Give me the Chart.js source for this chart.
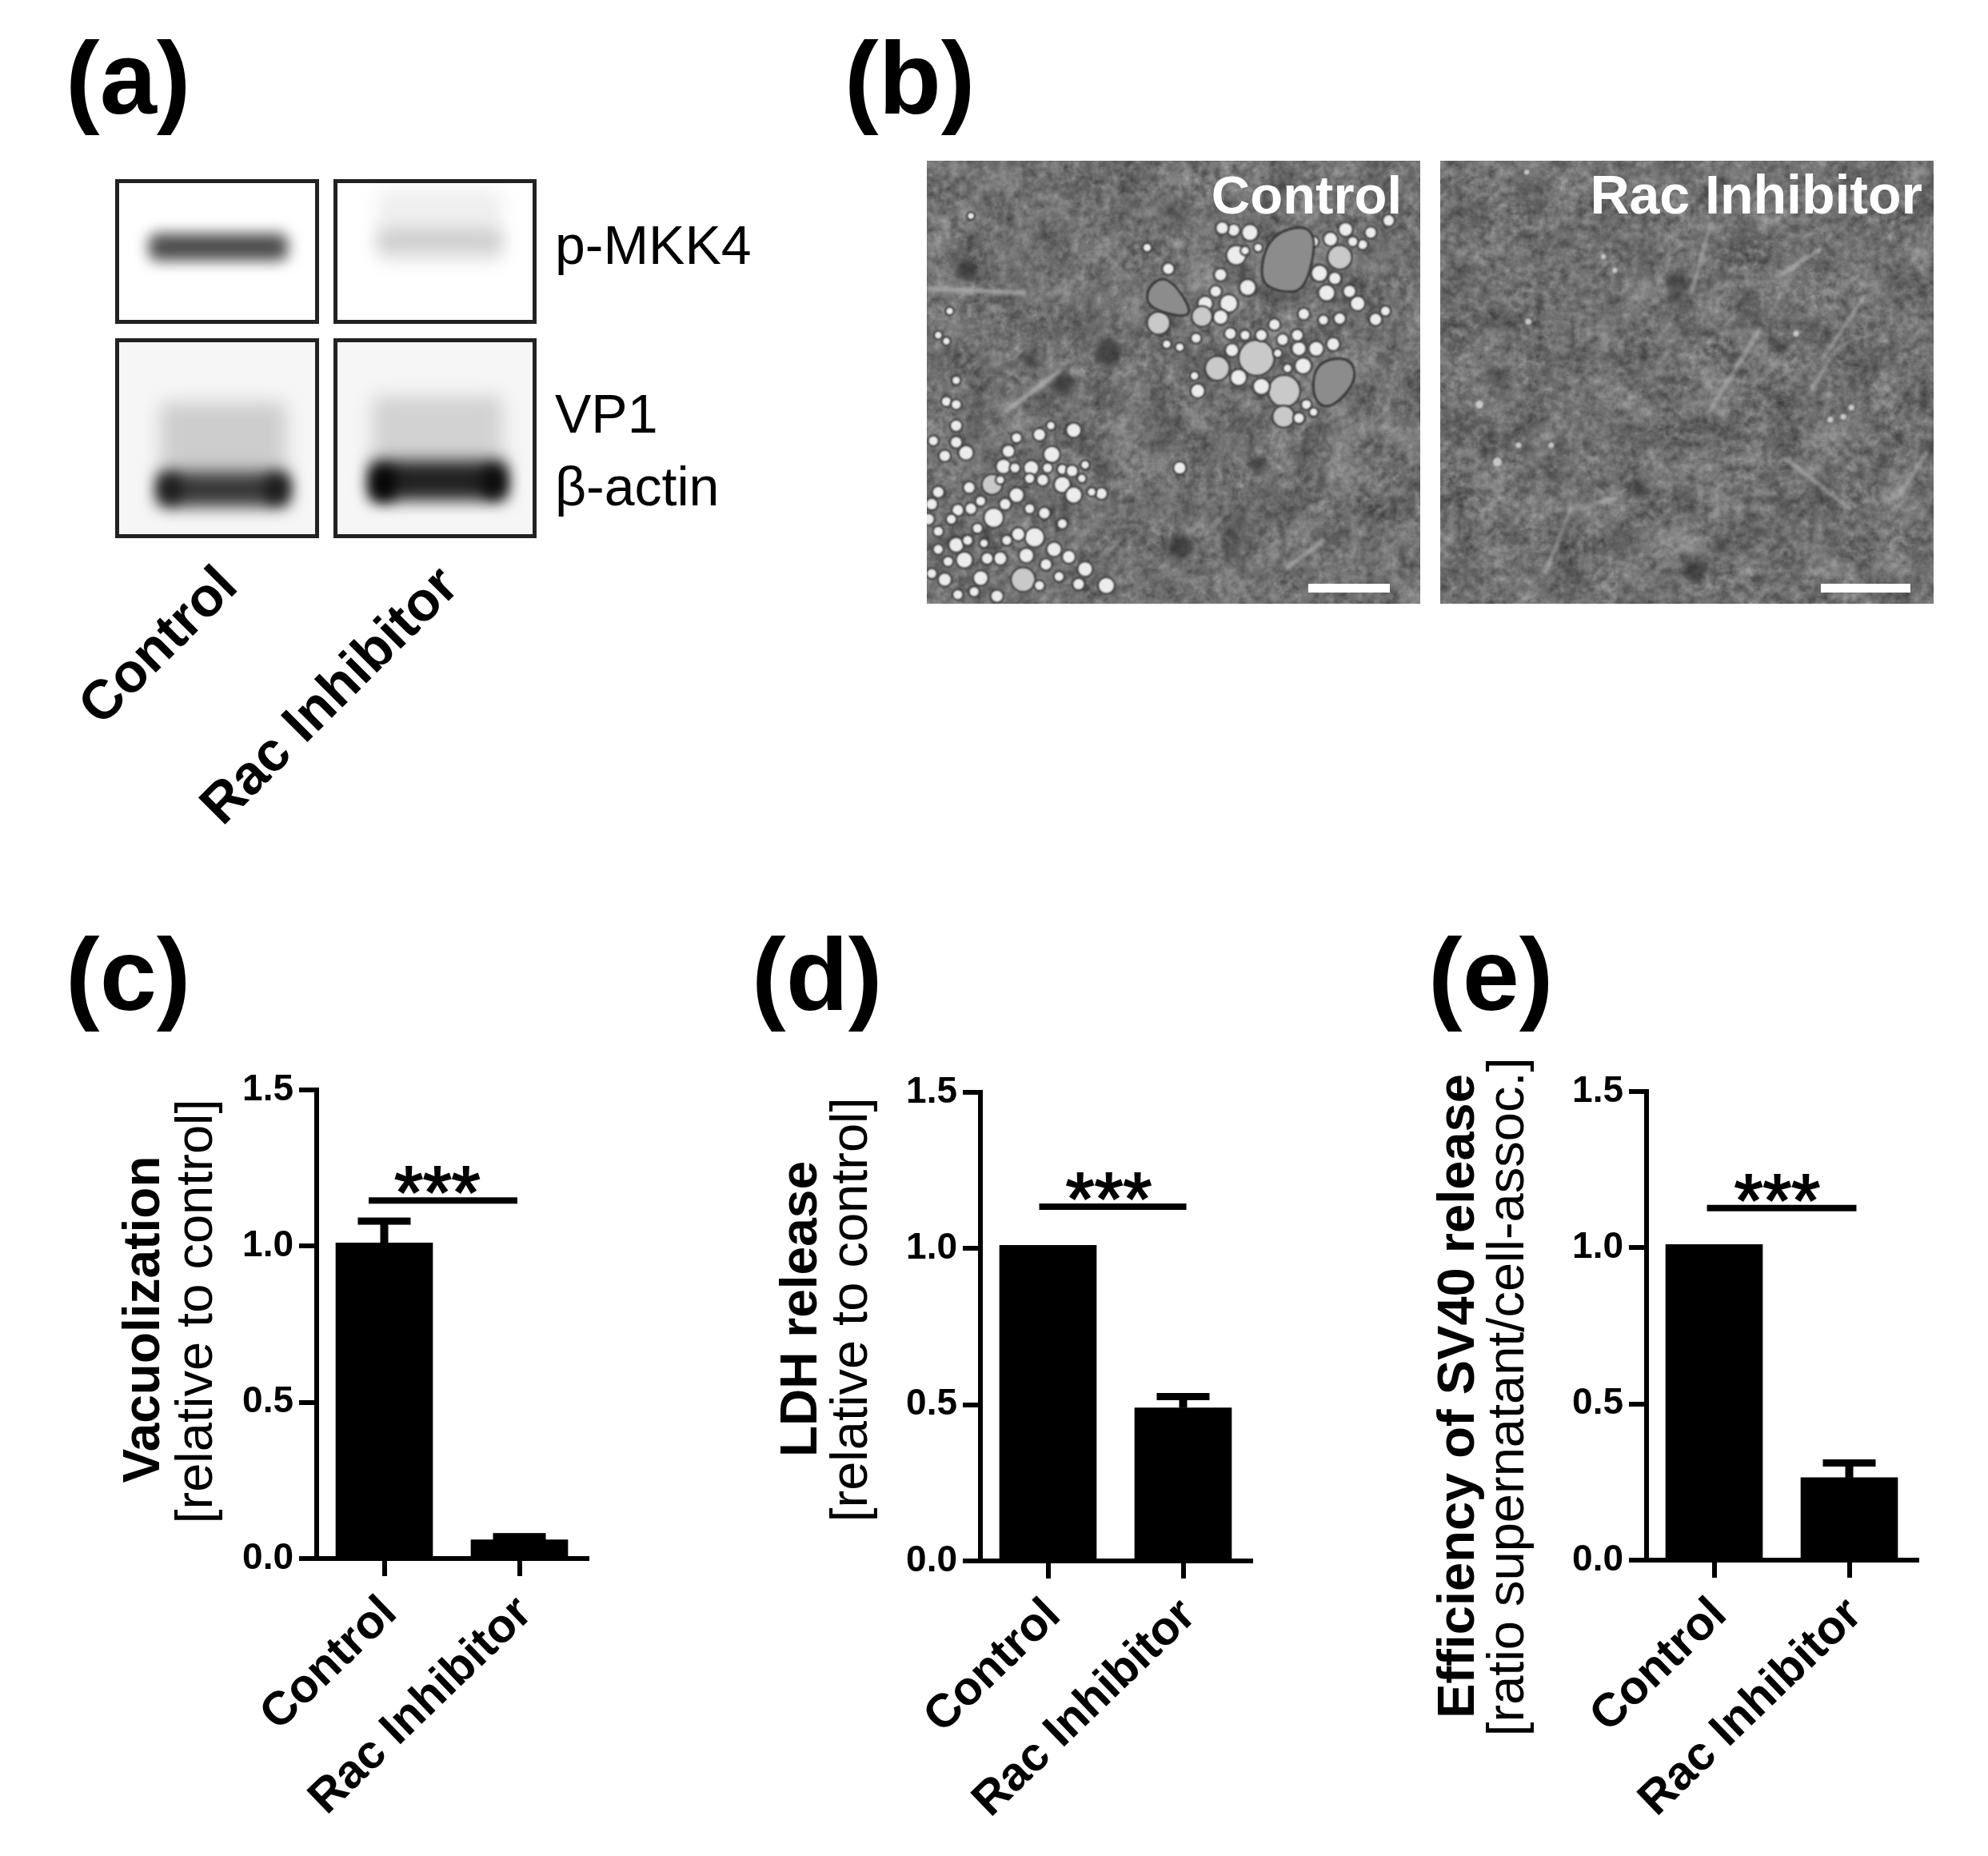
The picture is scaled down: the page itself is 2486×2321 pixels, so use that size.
<!DOCTYPE html>
<html>
<head>
<meta charset="utf-8">
<title>Rac inhibitor figure</title>
<script src="https://cdn.jsdelivr.net/npm/chart.js@4"></script>
<style>
    html, body { margin: 0; padding: 0; background: #fff; }
    #page { position: relative; width: 2486px; height: 2321px; overflow: hidden; background: #fff; font-family: "Liberation Sans", Arial, sans-serif; color: #000; }
    #page > canvas { position: absolute; }
    .label { position: absolute; white-space: nowrap; line-height: 1; }
    .blot { position: absolute; box-sizing: border-box; border: 5px solid #222; overflow: hidden; background: #fff; }
    .band { position: absolute; }
    .micrograph { position: absolute; overflow: hidden; background: #7c7c7c; }
    .micrograph svg, .micrograph canvas { position: absolute; left: 0; top: 0; }
    .scale-bar { position: absolute; background: #fff; }
</style>
</head>
<body>
<div id="page">
    <canvas id="vacuolizationChart"></canvas>
    <canvas id="ldhChart"></canvas>
    <canvas id="sv40Chart"></canvas>
</div>
<script>
const categories = ['Control', 'Rac Inhibitor'];
const yTicks = [0, 0.5, 1, 1.5];

const vacuolizationValues = [1.01, 0.06];
const vacuolizationErrors = [1.08, 0.07];
const vacuolizationBracket = [-0.115, 0.985, 1.146];

const ldhValues = [1.01, 0.49];
const ldhErrors = [null, 0.526];
const ldhBracket = [-0.065, 1.024, 1.134];

const sv40Values = [1.01, 0.264];
const sv40Errors = [null, 0.311];
const sv40Bracket = [-0.053, 1.053, 1.127];

const FONT = '"Liberation Sans", Arial, sans-serif';
const PAGE_WIDTH = 2486;
const PAGE_HEIGHT = 2321;
const BASELINE = 0.8465;

const page = document.getElementById('page');

function addLabel(text, x, baseline, size, options = {}) {
    const el = document.createElement('div');
    el.className = 'label';
    el.textContent = text;
    el.style.fontSize = size + 'px';
    el.style.fontWeight = options.bold ? 'bold' : 'normal';
    el.style.top = (baseline - BASELINE * size) + 'px';
    if (options.color) el.style.color = options.color;
    if (options.anchorEnd) {
        el.style.right = (PAGE_WIDTH - x) + 'px';
    } else {
        el.style.left = x + 'px';
    }
    if (options.rotate) {
        el.style.transformOrigin = '100% ' + BASELINE + 'em';
        el.style.transform = 'rotate(' + options.rotate + 'deg)';
    }
    page.appendChild(el);
}

// panel letters
addLabel('(a)', 82, 142, 128, { bold: true });
addLabel('(b)', 1056, 142, 128, { bold: true });
addLabel('(c)', 82, 1263, 128, { bold: true });
addLabel('(d)', 940, 1263, 128, { bold: true });
addLabel('(e)', 1786, 1263, 128, { bold: true });

// (a) blots
const blotBoxes = [
    { x: 144, y: 224, w: 255, h: 181, bg: '#fff', bands: [
        { x: 186, y: 292, w: 174, h: 34, color: '#4c4c4c', blur: 9 },
    ] },
    { x: 417, y: 224, w: 254, h: 181, bg: '#fff', bands: [
        { x: 472, y: 238, w: 156, h: 92, color: '#efefef', blur: 11 },
        { x: 472, y: 286, w: 156, h: 30, color: '#cfcfcf', blur: 10 },
    ] },
    { x: 144, y: 423, w: 255, h: 250, bg: '#f6f6f6', bands: [
        { x: 200, y: 503, w: 158, h: 95, color: '#cdcdcd', blur: 11 },
        { x: 196, y: 590, w: 166, h: 44, color: '#383838', blur: 10 },
        { x: 200, y: 594, w: 26, h: 34, color: '#1a1a1a', blur: 9 },
        { x: 332, y: 594, w: 28, h: 34, color: '#1a1a1a', blur: 9 },
    ] },
    { x: 417, y: 423, w: 254, h: 250, bg: '#f6f6f6', bands: [
        { x: 465, y: 495, w: 164, h: 90, color: '#d2d2d2', blur: 11 },
        { x: 462, y: 576, w: 172, h: 50, color: '#222', blur: 10 },
        { x: 464, y: 584, w: 30, h: 42, color: '#050505', blur: 9 },
        { x: 604, y: 584, w: 28, h: 38, color: '#0a0a0a', blur: 9 },
    ] },
];

blotBoxes.forEach(box => {
    const el = document.createElement('div');
    el.className = 'blot';
    el.style.cssText = `left:${box.x}px;top:${box.y}px;width:${box.w}px;height:${box.h}px;background:${box.bg}`;
    box.bands.forEach(band => {
        const b = document.createElement('div');
        b.className = 'band';
        b.style.cssText = `left:${band.x - box.x - 5}px;top:${band.y - box.y - 5}px;width:${band.w}px;height:${band.h}px;background:${band.color};filter:blur(${band.blur}px);border-radius:10px`;
        el.appendChild(b);
    });
    page.appendChild(el);
});

addLabel('p-MKK4', 694, 330, 68);
addLabel('VP1', 694, 541, 68);
addLabel('β-actin', 694, 632, 68);
addLabel('Control', 300, 736, 69, { bold: true, anchorEnd: true, rotate: -45 });
addLabel('Rac Inhibitor', 577, 736, 69, { bold: true, anchorEnd: true, rotate: -45 });

// (b) micrographs
const controlVacuoles = [
    [1035, 685, 45], [1120, 795, 40], [1290, 352, 30], [973, 345, 24], [915, 720, 30], [1118, 880, 27],
    [855, 795, 17], [980, 750, 20], [1050, 780, 20], [1178, 712, 20], [1165, 655, 17], [1228, 405, 20],
    [1275, 422, 15], [1262, 292, 17], [1308, 260, 17], [1345, 505, 18], [1400, 558, 15], [1430, 530, 12],
    [1320, 465, 15], [1360, 310, 12], [1385, 270, 14], [1008, 452, 20], [950, 505, 22], [925, 550, 18],
    [878, 505, 18], [868, 548, 25], [910, 465, 14], [925, 410, 15], [965, 262, 15], [1015, 270, 20],
    [930, 255, 15], [960, 660, 16], [955, 605, 14], [1050, 610, 14], [1115, 625, 14], [1160, 610, 14],
    [1218, 655, 18], [1270, 640, 16], [1188, 840, 12], [1165, 885, 13], [1210, 865, 10], [845, 745, 10],
    [1250, 470, 20], [765, 390, 14], [735, 570, 28], [850, 620, 12], [800, 650, 10], [760, 640, 10],
    [1000, 610, 12], [1090, 575, 14], [1180, 540, 14], [1240, 560, 12], [1290, 555, 14], [1100, 670, 10],
    [1130, 720, 10], [1000, 330, 10], [1040, 320, 10], [1210, 300, 12], [1440, 230, 14], [1330, 300, 12],
    [475, 925, 18], [405, 910, 10], [370, 940, 15], [300, 950, 12], [408, 1005, 20], [345, 1050, 18],
    [260, 1045, 18], [440, 1105, 20], [475, 1140, 20], [275, 995, 15], [510, 1040, 10], [500, 1085, 10],
    [560, 1135, 14], [530, 1130, 10], [300, 1140, 18], [225, 1105, 25], [155, 1115, 14], [230, 1215, 24],
    [355, 1280, 24], [140, 1355, 20], [305, 1270, 16], [330, 1340, 18], [390, 1370, 14], [415, 1320, 18],
    [460, 1345, 16], [510, 1385, 18], [575, 1440, 20], [80, 1420, 16], [190, 1415, 18], [240, 1475, 15],
    [320, 1420, 30], [250, 1350, 16], [115, 1305, 18], [160, 1185, 14], [120, 1190, 14], [60, 1130, 14],
    [40, 1170, 14], [30, 1220, 14], [100, 1220, 12], [60, 1260, 12], [40, 1400, 12], [490, 1435, 14],
    [145, 1000, 18], [115, 965, 14], [80, 1010, 14], [45, 960, 12], [85, 830, 12], [115, 910, 14],
    [115, 840, 12], [115, 760, 10], [385, 1200, 14], [270, 1290, 12], [210, 1350, 14], [200, 1300, 10],
    [800, 1050, 15], [380, 1090, 14], [340, 1085, 12], [395, 1050, 12], [440, 1055, 12], [470, 1060, 14],
    [295, 1050, 12], [250, 1090, 10], [60, 610, 9], [85, 630, 9], [95, 530, 9], [160, 215, 8], [700, 320, 10],
    [190, 1160, 12], [265, 1170, 14], [340, 1185, 12], [440, 1235, 12], [180, 1250, 12], [150, 1290, 12],
    [60, 1320, 12], [90, 1360, 12], [170, 1460, 12], [120, 1470, 12], [430, 1410, 12], [370, 1440, 12],
];
const controlIslands = [
    [[1075, 270], [1225, 240], [1190, 460], [1110, 470], [1040, 430]],
    [[700, 450], [760, 410], [830, 510], [825, 555], [700, 520]],
    [[1215, 700], [1320, 680], [1345, 760], [1260, 860], [1205, 820]],
];
const controlDark = [[580, 670, 42], [150, 395, 35], [440, 770, 35], [340, 690, 24], [1040, 1040, 26], [575, 1050, 14], [800, 1310, 40], [1435, 690, 14]];
const controlStreaks = [[[270, 860], [430, 730]], [[30, 455], [320, 470]], [[1130, 1380], [1240, 1290]]];
const controlRings = [[460, 70, 62, 70], [965, 850, 95, 75], [1005, 1265, 45, 50], [1040, 1300, 80, 110]];

const racDark = [[810, 1390, 35], [1290, 660, 14], [1350, 590, 12], [1430, 950, 14], [90, 190, 10], [640, 1120, 22], [1070, 650, 20], [750, 430, 26], [1010, 1420, 18], [1120, 1420, 14], [600, 1450, 14], [1090, 1165, 14], [890, 1310, 18], [300, 985, 14], [395, 975, 12], [1340, 990, 12], [1385, 1025, 12], [750, 480, 20]];
const racStreaks = [[[1010, 590], [850, 870]], [[1330, 480], [1200, 690]], [[1205, 720], [1170, 790]], [[1070, 410], [1190, 330]], [[1090, 1020], [1280, 1180]], [[1520, 1000], [1430, 1150]], [[800, 470], [860, 240]], [[430, 1190], [570, 1150]], [[350, 1400], [430, 1190]]];
const racRings = [[570, 360, 72, 125], [910, 500, 70, 85], [490, 1300, 85, 130], [1080, 1180, 110, 110], [300, 860, 130, 130]];
const racSpots = [[150, 840, 12], [300, 565, 10], [270, 975, 9], [370, 975, 9], [1120, 605, 9], [1290, 850, 9], [1265, 880, 9], [1225, 890, 9], [205, 1030, 14], [530, 350, 8], [565, 395, 8], [295, 70, 8]];

const controlPanel = { x: 1159, y: 201, w: 617, h: 554, ox: 25, seed: 4 };
const racPanel = { x: 1801, y: 201, w: 617, h: 554, ox: 30, seed: 11 };

function makeMicrograph(panel, draw) {
    const el = document.createElement('div');
    el.className = 'micrograph';
    el.style.cssText = `left:${panel.x}px;top:${panel.y}px;width:${panel.w}px;height:${panel.h}px`;
    el.innerHTML = `<svg width="${panel.w}" height="${panel.h}"><filter id="grain${panel.seed}" x="0" y="0" width="100%" height="100%" color-interpolation-filters="sRGB">` +
        `<feTurbulence type="fractalNoise" baseFrequency="0.1" numOctaves="3" seed="${panel.seed}" result="fine"/>` +
        `<feTurbulence type="fractalNoise" baseFrequency="0.022" numOctaves="2" seed="${panel.seed + 3}" result="coarse"/>` +
        `<feComposite in="fine" in2="coarse" operator="arithmetic" k1="0" k2="0.6" k3="0.6" k4="0"/>` +
        `<feColorMatrix type="matrix" values="0.6 0 0 0 0.14 0.6 0 0 0 0.14 0.6 0 0 0 0.14 0 0 0 0 1"/></filter>` +
        `<rect width="${panel.w}" height="${panel.h}" filter="url(#grain${panel.seed})"/></svg>`;
    const canvas = document.createElement('canvas');
    canvas.width = panel.w;
    canvas.height = panel.h;
    el.appendChild(canvas);
    page.appendChild(el);
    const ctx = canvas.getContext('2d');
    const sx = zx => (zx - panel.ox) / 2.45;
    const sy = zy => (zy - 32) / 2.65;
    ctx.filter = 'blur(1.2px)';
    draw(ctx, sx, sy);
}

function drawDark(ctx, sx, sy, list, color) {
    ctx.save();
    ctx.filter = 'blur(4px)';
    ctx.fillStyle = color;
    list.forEach(([x, y, r]) => {
        ctx.beginPath();
        ctx.arc(sx(x), sy(y), r / 2.5, 0, Math.PI * 2);
        ctx.fill();
    });
    ctx.restore();
}

function drawStreaks(ctx, sx, sy, list, color, width) {
    ctx.save();
    ctx.filter = 'blur(2px)';
    ctx.strokeStyle = color;
    ctx.lineWidth = width;
    ctx.lineCap = 'round';
    list.forEach(([a, b]) => {
        ctx.beginPath();
        ctx.moveTo(sx(a[0]), sy(a[1]));
        ctx.lineTo(sx(b[0]), sy(b[1]));
        ctx.stroke();
    });
    ctx.restore();
}

function drawRings(ctx, sx, sy, list, color) {
    ctx.save();
    ctx.filter = 'blur(2px)';
    ctx.strokeStyle = color;
    ctx.lineWidth = 5;
    list.forEach(([x, y, rx, ry]) => {
        ctx.beginPath();
        ctx.ellipse(sx(x), sy(y), rx / 2.45, ry / 2.65, 0, 0, Math.PI * 2);
        ctx.stroke();
    });
    ctx.restore();
}

// closed curve through the midpoints of the outline, so the islands stay round
function traceIsland(ctx, points) {
    ctx.beginPath();
    points.forEach((p, i) => {
        const next = points[(i + 1) % points.length];
        const mid = [(p[0] + next[0]) / 2, (p[1] + next[1]) / 2];
        if (i === 0) {
            const last = points[points.length - 1];
            ctx.moveTo((last[0] + p[0]) / 2, (last[1] + p[1]) / 2);
        }
        ctx.quadraticCurveTo(p[0], p[1], mid[0], mid[1]);
    });
    ctx.closePath();
}

makeMicrograph(controlPanel, (ctx, sx, sy) => {
    drawDark(ctx, sx, sy, controlDark, 'rgba(45,45,45,0.7)');
    drawStreaks(ctx, sx, sy, controlStreaks, 'rgba(185,185,185,0.7)', 6);
    drawRings(ctx, sx, sy, controlRings, 'rgba(70,70,70,0.4)');
    controlVacuoles.forEach(([x, y, r]) => {
        const px = sx(x);
        const py = sy(y);
        const radius = r / 2.1;
        ctx.beginPath();
        ctx.arc(px, py, radius + 2, 0, Math.PI * 2);
        ctx.fillStyle = '#363636';
        ctx.fill();
        ctx.beginPath();
        ctx.arc(px, py, radius, 0, Math.PI * 2);
        ctx.fillStyle = r > 24 ? '#c9c9c9' : '#ececec';
        ctx.fill();
    });
    controlIslands.forEach(outline => {
        traceIsland(ctx, outline.map(([x, y]) => [sx(x), sy(y)]));
        ctx.fillStyle = '#8c8c8c';
        ctx.fill();
        ctx.strokeStyle = '#2e2e2e';
        ctx.lineWidth = 2.5;
        ctx.stroke();
    });
});

makeMicrograph(racPanel, (ctx, sx, sy) => {
    drawDark(ctx, sx, sy, racDark, 'rgba(50,50,50,0.75)');
    drawStreaks(ctx, sx, sy, racStreaks, 'rgba(190,190,190,0.65)', 4);
    drawRings(ctx, sx, sy, racRings, 'rgba(90,90,90,0.4)');
    ctx.fillStyle = 'rgba(215,215,215,0.85)';
    racSpots.forEach(([x, y, r]) => {
        ctx.beginPath();
        ctx.arc(sx(x), sy(y), r / 2.5, 0, Math.PI * 2);
        ctx.fill();
    });
});

addLabel('Control', 1753, 267, 67, { bold: true, anchorEnd: true, color: '#fff' });
addLabel('Rac Inhibitor', 2404, 267, 68, { bold: true, anchorEnd: true, color: '#fff' });

[[1636, 730, 102, 11], [2277, 730, 112, 11]].forEach(([x, y, w, h]) => {
    const bar = document.createElement('div');
    bar.className = 'scale-bar';
    bar.style.cssText = `left:${x}px;top:${y}px;width:${w}px;height:${h}px`;
    page.appendChild(bar);
});

// (c), (d), (e) bar charts
const figureOverlay = {
    id: 'figureOverlay',
    afterDatasetsDraw(chart, args, opts) {
        const { ctx, scales: { x, y } } = chart;
        ctx.save();
        ctx.fillStyle = '#000';
        ctx.strokeStyle = '#000';

        // upper error bars
        opts.errors.forEach((top, i) => {
            if (top === null) return;
            const px = x.getPixelForValue(i);
            const py = y.getPixelForValue(top);
            ctx.fillRect(px - 5, py, 10, y.getPixelForValue(opts.values[i]) - py);
            ctx.fillRect(px - 33, py - 4.5, 66, 9);
        });

        // significance bracket
        const [from, to, level] = opts.bracket;
        const lineY = y.getPixelForValue(level);
        const x0 = x.getPixelForValue(from);
        const x1 = x.getPixelForValue(to);
        ctx.fillRect(x0, lineY - 4, x1 - x0, 8);
        ctx.font = '92px ' + FONT;
        ctx.textAlign = 'center';
        ctx.textBaseline = 'alphabetic';
        ctx.lineWidth = 2;
        ctx.fillText('***', x.getPixelForValue(opts.starsAt), lineY + 22);
        ctx.strokeText('***', x.getPixelForValue(opts.starsAt), lineY + 22);

        // axis titles, bold line and bracketed line
        opts.titles.forEach(t => {
            ctx.save();
            ctx.translate(t.x - opts.canvasLeft, t.y - opts.canvasTop);
            ctx.rotate(-Math.PI / 2);
            ctx.font = (t.bold ? 'bold ' : '') + t.size + 'px ' + FONT;
            ctx.fillText(t.text, 0, 0);
            ctx.restore();
        });
        ctx.restore();
    },
};

function drawBarChart(id, box, values, errors, bracket, starsAt, titles) {
    const canvas = document.getElementById(id);
    canvas.width = box.right - box.left;
    canvas.height = PAGE_HEIGHT - box.top;
    canvas.style.left = box.left + 'px';
    canvas.style.top = box.top + 'px';

    return new Chart(canvas, {
        type: 'bar',
        data: {
            labels: categories,
            datasets: [{
                data: values,
                backgroundColor: '#000',
                borderWidth: 0,
                barThickness: 121,
            }],
        },
        plugins: [figureOverlay],
        options: {
            responsive: false,
            animation: false,
            layout: {
                padding: { top: box.plotTop - box.top, right: box.right - box.plotRight, left: 0, bottom: 0 },
            },
            plugins: {
                legend: { display: false },
                tooltip: { enabled: false },
                title: { display: false },
                figureOverlay: { values, errors, bracket, starsAt, titles, canvasLeft: box.left, canvasTop: box.top },
            },
            scales: {
                x: {
                    offset: true,
                    afterFit(scale) { scale.height = PAGE_HEIGHT - box.plotBottom; },
                    border: { color: '#000', width: 6 },
                    grid: { offset: false, drawOnChartArea: false, color: '#000', lineWidth: 6, tickLength: 22 },
                    ticks: {
                        color: '#000',
                        font: { family: FONT, size: 59, weight: 'bold' },
                        minRotation: 44,
                        maxRotation: 44,
                        autoSkip: false,
                        padding: 12,
                        labelOffset: 7,
                    },
                },
                y: {
                    min: 0,
                    max: 1.5,
                    afterFit(scale) { scale.width = box.plotLeft - box.left; },
                    afterBuildTicks(scale) { scale.ticks = yTicks.map(value => ({ value })); },
                    border: { color: '#000', width: 6 },
                    grid: { drawOnChartArea: false, color: '#000', lineWidth: 6, tickLength: 22 },
                    ticks: {
                        color: '#000',
                        font: { family: FONT, size: 46, weight: 'bold' },
                        padding: 7,
                        callback: value => value.toFixed(1),
                    },
                },
            },
        },
    });
}

drawBarChart('vacuolizationChart',
    { left: 60, right: 790, top: 1290, plotLeft: 396, plotRight: 734, plotTop: 1363, plotBottom: 1949 },
    vacuolizationValues, vacuolizationErrors, vacuolizationBracket, 0.393,
    [
        { text: 'Vacuolization', x: 199, y: 1650, size: 64, bold: true },
        { text: '[relative to control]', x: 265, y: 1640, size: 65 },
    ]);

drawBarChart('ldhChart',
    { left: 940, right: 1620, top: 1290, plotLeft: 1226, plotRight: 1564, plotTop: 1366, plotBottom: 1952 },
    ldhValues, ldhErrors, ldhBracket, 0.45,
    [
        { text: 'LDH release', x: 1021, y: 1637, size: 64, bold: true },
        { text: '[relative to control]', x: 1084, y: 1638, size: 65 },
    ]);

drawBarChart('sv40Chart',
    { left: 1760, right: 2460, top: 1290, plotLeft: 2059, plotRight: 2397, plotTop: 1365, plotBottom: 1951 },
    sv40Values, sv40Errors, sv40Bracket, 0.467,
    [
        { text: 'Efficiency of SV40 release', x: 1843, y: 1746, size: 65, bold: true },
        { text: '[ratio supernatant/cell-assoc.]', x: 1905, y: 1747, size: 65 },
    ]);
</script>
</body>
</html>
